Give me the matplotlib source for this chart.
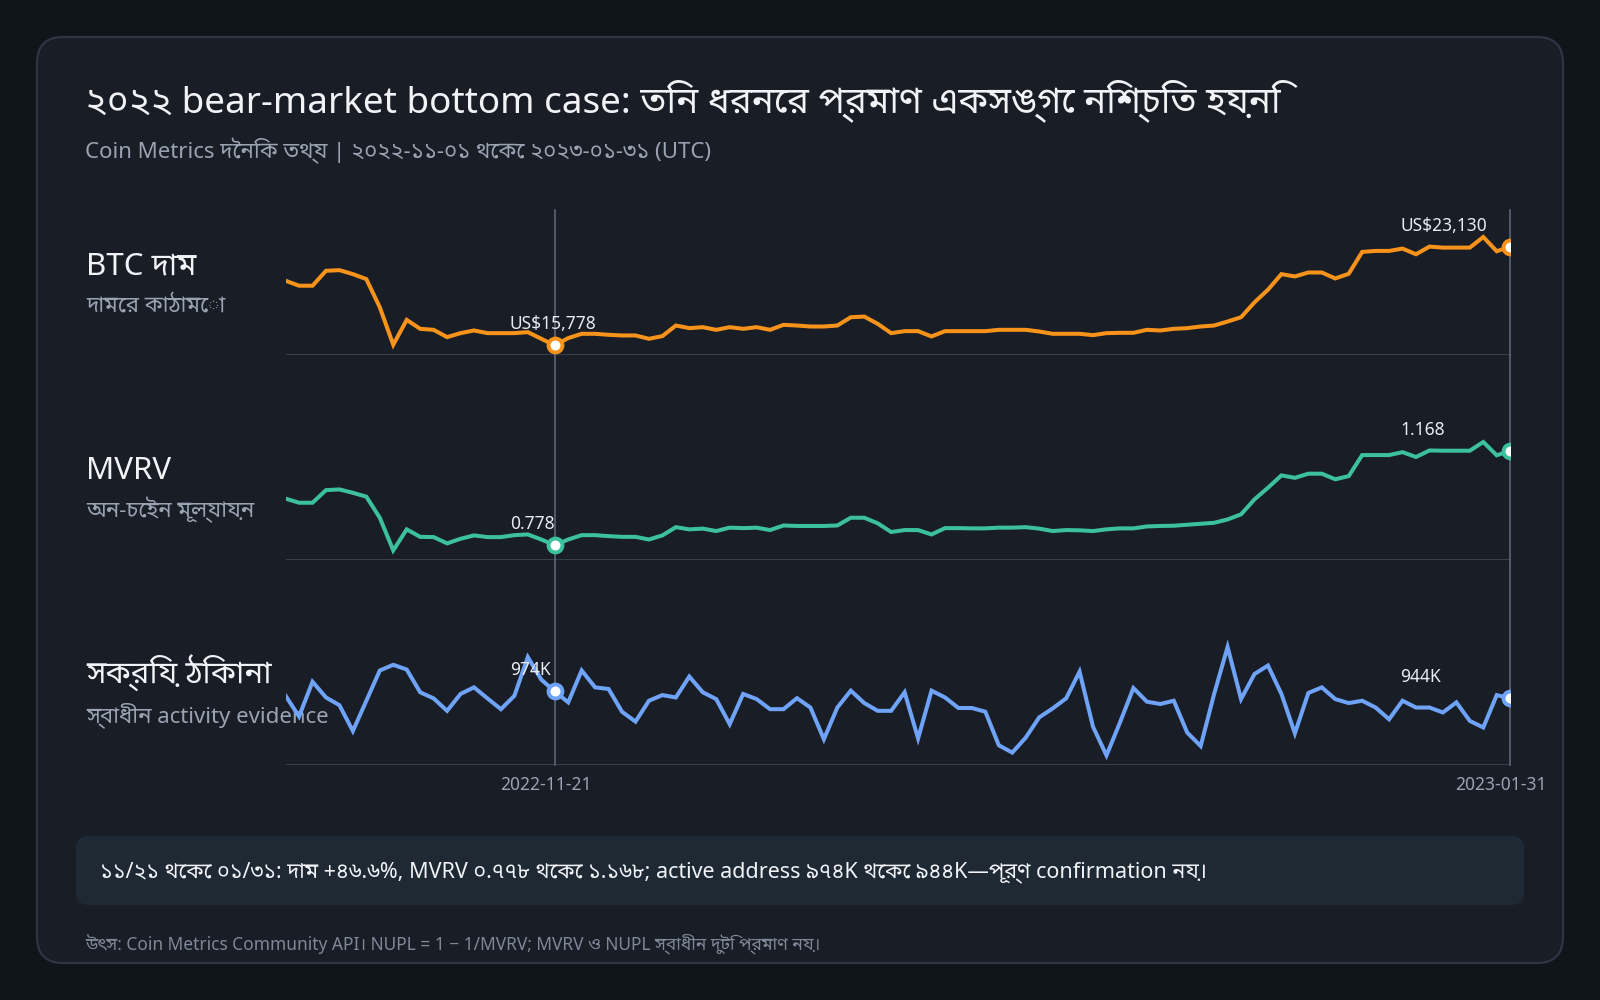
import matplotlib
matplotlib.use("Agg")
import matplotlib.pyplot as plt
import matplotlib.dates as mdates
from matplotlib import font_manager as fm
from matplotlib.ft2font import FT2Font
from matplotlib.patches import FancyBboxPatch
import pandas as pd

# daily values, 2022-11-01 .. 2023-01-31
btc_price = [
    20589, 20219, 20219, 21329, 21378, 21082, 20712, 18615, 15827, 17678,
    17012, 16937, 16395, 16691, 16888, 16691, 16691, 16691, 16765, 16271,
    15778, 16321, 16641, 16641, 16567, 16518, 16518, 16271, 16469, 17258,
    17061, 17135, 16937, 17135, 17012, 17135, 16937, 17308, 17258, 17184,
    17184, 17258, 17875, 17924, 17382, 16691, 16839, 16839, 16444, 16839,
    16839, 16839, 16839, 16937, 16937, 16937, 16814, 16641, 16641, 16641,
    16543, 16691, 16715, 16715, 16937, 16888, 17012, 17061, 17184, 17258,
    17554, 17875, 18985, 19923, 21082, 20909, 21205, 21205, 20761, 21107,
    22735, 22809, 22809, 22982, 22562, 23130, 23056, 23056, 23056, 23845,
    22784, 23130,
]
mvrv = [
    0.970, 0.953, 0.953, 1.005, 1.008, 0.994, 0.978, 0.891, 0.756, 0.843,
    0.812, 0.811, 0.785, 0.804, 0.818, 0.811, 0.811, 0.819, 0.822, 0.801,
    0.778, 0.801, 0.819, 0.819, 0.815, 0.812, 0.812, 0.801, 0.818, 0.852,
    0.843, 0.846, 0.836, 0.850, 0.848, 0.850, 0.840, 0.859, 0.857, 0.857,
    0.857, 0.859, 0.891, 0.891, 0.868, 0.832, 0.840, 0.840, 0.822, 0.848,
    0.848, 0.847, 0.847, 0.850, 0.850, 0.852, 0.846, 0.836, 0.840, 0.839,
    0.836, 0.843, 0.847, 0.847, 0.855, 0.857, 0.858, 0.862, 0.866, 0.870,
    0.884, 0.905, 0.967, 1.015, 1.066, 1.056, 1.073, 1.073, 1.050, 1.063,
    1.150, 1.150, 1.150, 1.162, 1.142, 1.169, 1.168, 1.168, 1.168, 1.204,
    1.149, 1.168,
]
active_k = [
    955, 867, 1015, 948, 915, 805, 934, 1063, 1087, 1067,
    970, 944, 891, 963, 991, 944, 898, 955, 1120, 1024,
    974, 927, 1063, 991, 984, 887, 845, 934, 958, 948,
    1037, 970, 941, 834, 963, 941, 898, 898, 945, 905,
    770, 905, 977, 924, 891, 891, 970, 773, 977, 948,
    903, 903, 887, 744, 713, 777, 863, 901, 944, 1058,
    823, 701, 841, 988, 930, 920, 934, 798, 741, 963,
    1163, 941, 1048, 1084, 963, 795, 967, 991, 941, 924,
    934, 905, 855, 934, 905, 905, 884, 927, 848, 820,
    958, 944,
]
dates = pd.date_range("2022-11-01", "2023-01-31", freq="D")
mark_idx = [20, len(dates) - 1]   # 2022-11-21 and the last day

panel_names = ["BTC দাম", "MVRV", "সক্রিয় ঠিকানা"]
panel_notes = ["দামের কাঠামো", "অন-চেইন মূল্যায়ন", "স্বাধীন activity evidence"]
panel_colors = ["#f7931a", "#3cc19c", "#6fa3f7"]
title = "২০২২ bear-market bottom case: তিন ধরনের প্রমাণ একসঙ্গে নিশ্চিত হয়নি"
subtitle = "Coin Metrics দৈনিক তথ্য | ২০২২-১১-০১ থেকে ২০২৩-০১-৩১ (UTC)"
summary = ("১১/২১ থেকে ০১/৩১: দাম +৪৬.৬%, MVRV ০.৭৭৮ থেকে ১.১৬৮; "
           "active address ৯৭৪K থেকে ৯৪৪K—পূর্ণ confirmation নয়।")
footer = "উৎস: Coin Metrics Community API। NUPL = 1 − 1/MVRV; MVRV ও NUPL স্বাধীন দুটি প্রমাণ নয়।"


def bengali_family():
    names = sorted({f.name for f in fm.fontManager.ttflist})
    for key in ("Sans Bengali", "Bengali", "Nirmala", "Lohit", "Vrinda", "Mukti", "Kalpurush", "Bangla"):
        for n in names:
            if key in n:
                return n
    for f in fm.fontManager.ttflist:
        try:
            if 0x0995 in FT2Font(f.fname).get_charmap():
                return f.name
        except Exception:
            pass
    return None


fams = ["Noto Sans"]
bn = bengali_family()
if bn:
    fams.append(bn)
fams.append("DejaVu Sans")
plt.rcParams["font.family"] = fams

W, H = 1600, 1000
bg_outer = "#10141b"
card = "#181d26"
white = "#f1f3f7"
grey = "#9aa3b1"

fig = plt.figure(figsize=(16, 10), dpi=100, facecolor=bg_outer)

# background layer in pixel coordinates
bg = fig.add_axes([0, 0, 1, 1], zorder=-5)
bg.set_xlim(0, W)
bg.set_ylim(H, 0)
bg.axis("off")
bg.add_patch(FancyBboxPatch((37, 37), 1526, 926, boxstyle="round,pad=0,rounding_size=26",
                            facecolor=card, edgecolor="#2f3542", linewidth=1.6))
bg.add_patch(FancyBboxPatch((76, 836), 1448, 69, boxstyle="round,pad=0,rounding_size=13",
                            facecolor="#1f2934", edgecolor="none"))

bg.text(85, 112, title, color=white, fontsize=26.5, va="baseline")
bg.text(85, 158, subtitle, color=grey, fontsize=16, va="baseline")
bg.text(100, 877, summary, color=white, fontsize=15.5, va="baseline")
bg.text(85, 949, footer, color="#7f8897", fontsize=12.5, va="baseline")

# three stacked panels
x0, x1 = 285.6, 1510.2
bottoms = [355, 560, 765]
ph = 145
gap = 60
series = [btc_price, mvrv, active_k]
labels = [
    lambda v: f"US${v:,.0f}",
    lambda v: f"{v:.3f}",
    lambda v: f"{v:.0f}K",
]

axes = []
for i, (vals, col) in enumerate(zip(series, panel_colors)):
    b = bottoms[i]
    ax = fig.add_axes([x0 / W, 1 - b / H, (x1 - x0) / W, ph / H])
    ax.set_facecolor("none")
    mn, mx = min(vals), max(vals)
    rng = mx - mn
    lo = mn - 9.6 / 108.4 * rng
    ax.set_ylim(lo, lo + ph / 108.4 * rng)
    ax.set_xlim(dates[0], dates[-1])
    for s in ax.spines.values():
        s.set_visible(False)
    ax.set_yticks([])
    ax.set_xticks([])
    ax.axhline(lo, color="#3b4453", linewidth=1.3, zorder=1)
    top = 1.0 if i == 0 else 1 + gap / ph
    for j in mark_idx:
        ax.axvline(dates[j], ymin=0, ymax=top, color="#5b6577", linewidth=1.2,
                   clip_on=False, zorder=1)
    ax.plot(dates, vals, color=col, linewidth=2.9, solid_joinstyle="miter", zorder=3)
    for k, j in enumerate(mark_idx):
        ax.plot(dates[j], vals[j], "o", markersize=10, markerfacecolor="white",
                markeredgecolor=col, markeredgewidth=2.8, zorder=4)
        dx = -45 if k == 0 else -110
        ax.annotate(labels[i](vals[j]), (dates[j], vals[j]), xytext=(dx, 21),
                    textcoords="offset pixels", ha="left", va="center",
                    color="#e8ebf0", fontsize=12.5, zorder=5)
    axes.append(ax)

    bg.text(86, b - 81, panel_names[i], color=white, fontsize=22.5, va="baseline")
    bg.text(86, b - 43, panel_notes[i], color=grey, fontsize=16, va="baseline")

# date labels under the bottom panel
ax = axes[-1]
for j in mark_idx:
    ax.annotate(dates[j].strftime("%Y-%m-%d"), (mdates.date2num(dates[j]), 0),
                xycoords=("data", "axes fraction"), xytext=(-9, -20),
                textcoords="offset pixels", ha="center", va="center",
                color=grey, fontsize=12.5)

fig.savefig("out.png", dpi=100, facecolor=bg_outer)
